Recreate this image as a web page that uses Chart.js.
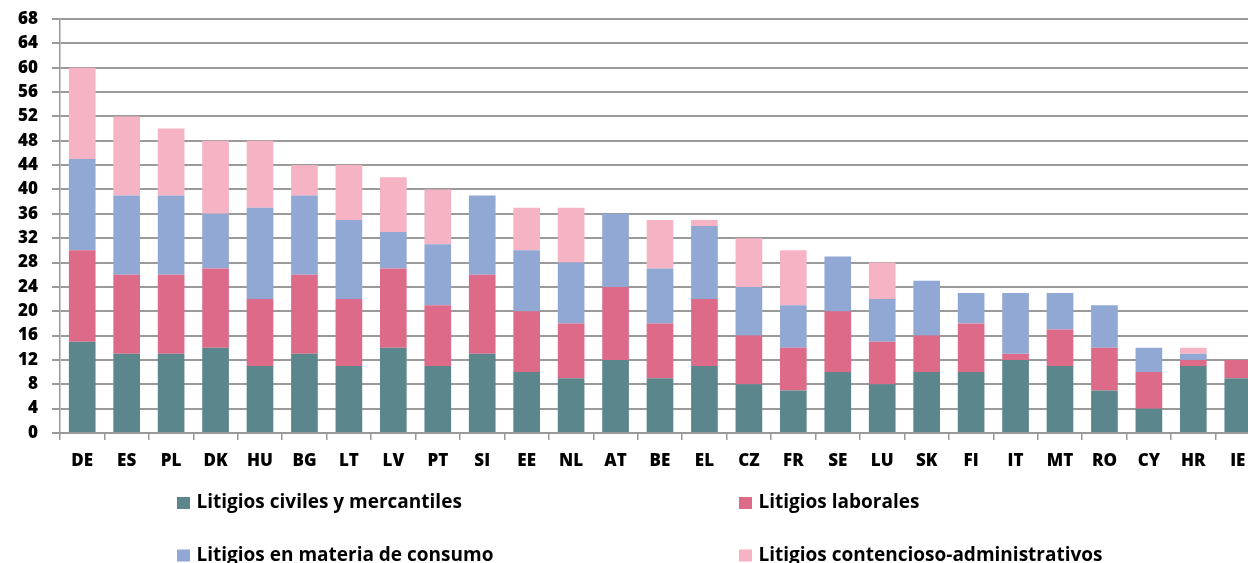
<!DOCTYPE html>
<html>
<head>
<meta charset="utf-8">
<script src="https://cdn.jsdelivr.net/npm/chart.js@4/dist/chart.umd.min.js"></script>
<style>
  html, body { margin: 0; padding: 0; background: #fff; overflow: hidden; }
  #wrap { position: relative; width: 1262px; height: 563px; }
</style>
</head>
<body>
<div id="wrap"><canvas id="c" width="1262" height="563"></canvas></div>
<script>
const categories = ['DE','ES','PL','DK','HU','BG','LT','LV','PT','SI','EE','NL','AT','BE','EL','CZ','FR','SE','LU','SK','FI','IT','MT','RO','CY','HR','IE'];
const civiles     = [15,13,13,14,11,13,11,14,11,13,10, 9,12, 9,11, 8, 7,10, 8,10,10,12,11, 7, 4,11, 9];
const laborales   = [15,13,13,13,11,13,11,13,10,13,10, 9,12, 9,11, 8, 7,10, 7, 6, 8, 1, 6, 7, 6, 1, 3];
const consumo     = [15,13,13, 9,15,13,13, 6,10,13,10,10,12, 9,12, 8, 7, 9, 7, 9, 5,10, 6, 7, 4, 1, 0];
const contencioso = [15,13,11,12,11, 5, 9, 9, 9, 0, 7, 9, 0, 8, 1, 8, 9, 0, 6, 0, 0, 0, 0, 0, 0, 1, 0];
const seriesNames = ['Litigios civiles y mercantiles','Litigios laborales','Litigios en materia de consumo','Litigios contencioso-administrativos'];
const seriesColors = ['#5B878C','#DE6A89','#91A8D4','#F5B3C3'];
const yMin = 0, yMax = 68, yStep = 4;

const FONT = "'Open Sans', sans-serif";

const legendPlugin = {
  id: 'gridLegend',
  afterDraw(chart) {
    const ctx = chart.ctx;
    const items = chart.options.plugins.legend.labels.generateLabels(chart);
    const colX = [177, 739];
    const rowY = [503, 555.5];
    ctx.save();
    ctx.font = "bold 19px " + FONT;
    ctx.textBaseline = 'middle';
    ctx.textAlign = 'left';
    items.forEach((it, i) => {
      const col = i % 2, row = Math.floor(i / 2);
      const x = colX[col], y = rowY[row];
      ctx.fillStyle = it.fillStyle;
      ctx.fillRect(x, y - 6, 13, 12);
      ctx.fillStyle = '#000';
      ctx.fillText(it.text, x + 19.5, y);
    });
    ctx.restore();
  }
};

new Chart(document.getElementById('c'), {
  type: 'bar',
  data: {
    labels: categories,
    datasets: [civiles, laborales, consumo, contencioso].map((d, i) => ({
      label: seriesNames[i],
      data: d,
      backgroundColor: seriesColors[i],
      borderWidth: 0,
      barPercentage: 0.6,
      categoryPercentage: 1.0
    }))
  },
  options: {
    responsive: false,
    devicePixelRatio: 1,
    animation: false,
    layout: { padding: { top: 19, right: 2, bottom: 88, left: 0 } },
    plugins: {
      legend: { display: false },
      tooltip: { enabled: false }
    },
    scales: {
      x: {
        stacked: true,
        grid: { display: true, drawOnChartArea: false, drawTicks: true, tickLength: 7, offset: true, color: '#999', lineWidth: 1.5 },
        border: { display: true, color: '#999', width: 1.5 },
        ticks: { color: '#000', font: { family: FONT, size: 17, weight: '800' }, padding: 11, maxRotation: 0, autoSkip: false },
        afterFit(s) { s.height = 42; s.paddingLeft = 0; s.paddingRight = 0; }
      },
      y: {
        stacked: true,
        min: yMin, max: yMax,
        grid: { color: '#9a9a9a', lineWidth: 2, tickLength: 8 },
        border: { display: true, color: '#999', width: 1.5 },
        ticks: { stepSize: yStep, color: '#000', font: { family: FONT, size: 17, weight: '800' }, padding: 14 },
        afterFit(s) { s.width = 60; s.paddingTop = 0; s.paddingBottom = 0; }
      }
    }
  },
  plugins: [legendPlugin]
});
</script>
</body>
</html>
